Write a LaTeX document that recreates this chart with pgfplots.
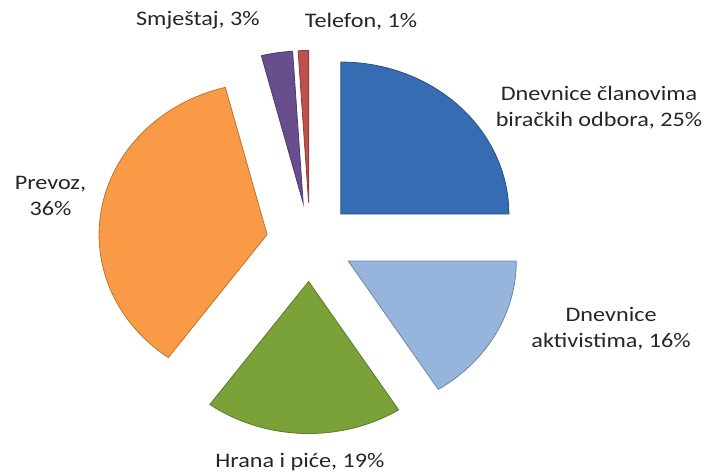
\documentclass[border=0pt]{standalone}
\usepackage{pgfplots}
\pgfplotsset{compat=1.18}
\usepackage{graphicx}
\usepackage{fontspec}
\setmainfont{Carlito}
\definecolor{cBlue}{RGB}{54,108,178}
\definecolor{cLBlue}{RGB}{150,180,220}
\definecolor{cGreen}{RGB}{122,162,56}
\definecolor{cOrange}{RGB}{249,155,70}
\definecolor{cPurple}{RGB}{104,78,140}
\definecolor{cRed}{RGB}{192,80,77}
\newcommand\sx[1]{\scalebox{1.17}[1]{#1}}
% #1 cumulative share before the slice, #2 share (%), #3 colour
\newcommand\pieslice[3]{%
  \pgfmathsetmacro\aS{90-3.6*#1}%
  \pgfmathsetmacro\aE{90-3.6*(#1+#2)}%
  \pgfmathsetmacro\aM{(\aS+\aE)/2}%
  \pgfmathsetmacro\ox{0.26*cos(\aM)}%
  \pgfmathsetmacro\oy{0.26*sin(\aM)}%
  \edef\tmp{\noexpand\addplot[fill=#3, draw=#3!75!black, line width=0.6pt, domain=\aE:\aS, samples=80]
    ({\ox+cos(x)},{\oy+sin(x)}) -- (axis cs:\ox,\oy) -- cycle;}%
  \tmp}
\begin{document}
\begin{tikzpicture}[lbl/.style={font=\fontsize{15.5}{19.5}\selectfont, text=black!85, align=center, inner sep=0pt}]
\begin{axis}[
  hide axis, scale only axis,
  width=528.75pt, height=355.5pt,
  xmin=-1.845, xmax=2.351, ymin=-1.526, ymax=1.592,
  clip=false,
]
% shares: 25, 16, 19, 36, 3, 1
\pieslice{0}{25}{cBlue}
\pieslice{25}{16}{cLBlue}
\pieslice{41}{19}{cGreen}
\pieslice{60}{36}{cOrange}
\pieslice{96}{3}{cPurple}
\pieslice{99}{1}{cRed}
\node[lbl] at (axis cs:-0.667,1.461) {\sx{Smještaj, 3\%}};
\node[lbl] at (axis cs:0.304,1.447) {\sx{Telefon, 1\%}};
\node[lbl] at (axis cs:1.720,0.885) {\sx{Dnevnice članovima}\\\sx{biračkih odbora, 25\%}};
\node[lbl] at (axis cs:-1.545,0.303) {\sx{Prevoz,}\\\sx{36\%}};
\node[lbl] at (axis cs:1.792,-0.569) {\sx{Dnevnice}\\\sx{aktivistima, 16\%}};
\node[lbl] at (axis cs:-0.060,-1.447) {\sx{Hrana i piće, 19\%}};
\end{axis}
\pgfresetboundingbox
\useasboundingbox (current axis.south west) rectangle (current axis.north east);
\end{tikzpicture}
\end{document}
